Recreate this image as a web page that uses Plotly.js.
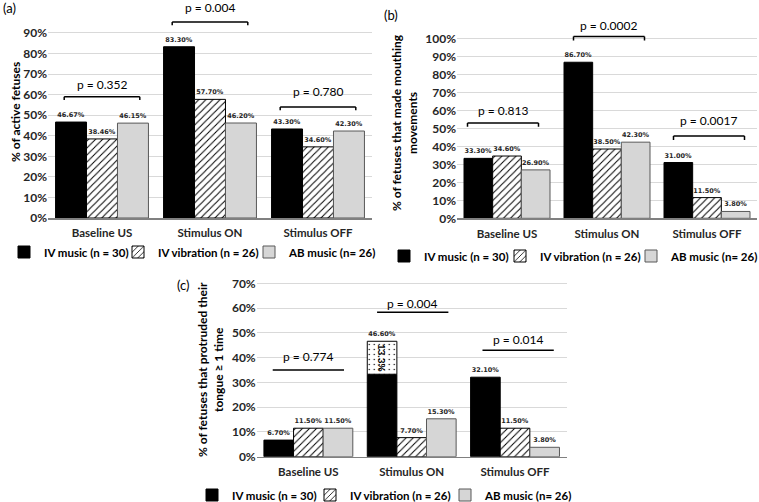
<!DOCTYPE html>
<html><head><meta charset="utf-8">
<script src="https://cdn.plot.ly/plotly-3.0.1.min.js"></script>
<style>html,body{margin:0;padding:0;background:#fff}#chart{width:759px;height:502px}</style>
</head><body><div id="chart"></div>
<script>
// ---------- DATA ----------
const categories = ['Baseline US', 'Stimulus ON', 'Stimulus OFF'];
const seriesNames = ['IV music (n = 30)', 'IV vibration (n = 26)', 'AB music (n= 26)'];

// (a) % of active fetuses
const activeIVMusic     = [46.67, 83.30, 43.30];
const activeIVVibration = [38.46, 57.70, 34.60];
const activeABMusic     = [46.15, 46.20, 42.30];
const pActive = ['p = 0.352', 'p = 0.004', 'p = 0.780'];

// (b) % of fetuses that made mouthing movements
const mouthIVMusic     = [33.30, 86.70, 31.00];
const mouthIVVibration = [34.60, 38.50, 11.50];
const mouthABMusic     = [26.90, 42.30, 3.80];
const pMouth = ['p = 0.813', 'p = 0.0002', 'p = 0.0017'];

// (c) % of fetuses that protruded their tongue >= 1 time
const tongueIVMusic      = [6.70, 33.30, 32.10];
const tongueIVMusicExtra = [null, 13.30, null];   // dotted stacked part
const tongueIVVibration  = [11.50, 7.70, 11.50];
const tongueABMusic      = [11.50, 15.30, 3.80];
const pTongue = ['p = 0.774', 'p = 0.004', 'p = 0.014'];

const yTicksA = [0, 10, 20, 30, 40, 50, 60, 70, 80, 90];
const yTicksB = [0, 10, 20, 30, 40, 50, 60, 70, 80, 90, 100];
const yTicksC = [0, 10, 20, 30, 40, 50, 60, 70];

// ---------- STYLE / LAYOUT CONFIG ----------
const F = 'Lato, "Open Sans", sans-serif';
const W = 759, H = 502;
const px = v => v / W, py = v => 1 - v / H;
const fmt2 = v => v == null ? '' : v.toFixed(2) + '%';
const fmt1 = v => v == null ? '' : v.toFixed(1) + '%';

const styleMusic = {color: '#000000', line: {color: '#000000', width: 1}};
const styleVib = {color: '#ffffff', line: {color: '#000000', width: 1},
  pattern: {shape: '/', fgcolor: '#000000', bgcolor: '#ffffff', size: 5, solidity: 0.2}};
const styleAB = {color: '#d6d6d6', line: {color: '#595959', width: 1}};
const styleDots = {color: '#ffffff', line: {color: '#000000', width: 1},
  pattern: {shape: '.', fgcolor: '#000000', bgcolor: '#ffffff', size: 5, solidity: 0.06}};
const labelFont = {family: '"DejaVu Sans", sans-serif', size: 6.5, weight: 700, color: '#262626'};

function bar(x, y, name, marker, xa, ya, legend, og, text, extra) {
  return Object.assign({
    type: 'bar', x: x, y: y, name: name, marker: marker, xaxis: xa, yaxis: ya,
    legend: legend, offsetgroup: og, text: text, textposition: 'outside',
    cliponaxis: false, constraintext: 'none', textfont: labelFont,
    outsidetextfont: labelFont, hoverinfo: 'skip'
  }, extra || {});
}

const traces = [];
// panel a
traces.push(bar(categories, activeIVMusic, seriesNames[0], styleMusic, 'x', 'y', 'legend', 'm', activeIVMusic.map(fmt2)));
traces.push(bar(categories, activeIVVibration, seriesNames[1], styleVib, 'x', 'y', 'legend2', 'v', activeIVVibration.map(fmt2)));
traces.push(bar(categories, activeABMusic, seriesNames[2], styleAB, 'x', 'y', 'legend3', 'a', activeABMusic.map(fmt2)));
// panel b
traces.push(bar(categories, mouthIVMusic, seriesNames[0], styleMusic, 'x2', 'y2', 'legend4', 'm', mouthIVMusic.map(fmt2)));
traces.push(bar(categories, mouthIVVibration, seriesNames[1], styleVib, 'x2', 'y2', 'legend5', 'v', mouthIVVibration.map(fmt2)));
traces.push(bar(categories, mouthABMusic, seriesNames[2], styleAB, 'x2', 'y2', 'legend6', 'a', mouthABMusic.map(fmt2)));
// panel c
const tongueMusicText = tongueIVMusic.map((v, i) => tongueIVMusicExtra[i] != null ? '' : fmt2(v));
traces.push(bar(categories, tongueIVMusic, seriesNames[0], styleMusic, 'x3', 'y3', 'legend7', 'm', tongueMusicText));
traces.push(bar(categories, tongueIVMusicExtra, 'IV music extra', styleDots, 'x3', 'y3', 'legend7', 'm',
  tongueIVMusicExtra.map(fmt1),
  {base: tongueIVMusic, showlegend: false, textposition: 'inside', textangle: 90, insidetextanchor: 'middle',
   insidetextfont: {family: F, size: 10, weight: 700, color: '#000000'}}));
const tongueTotal = tongueIVMusic.map((v, i) => tongueIVMusicExtra[i] != null ? v + tongueIVMusicExtra[i] : null);
traces.push(bar(categories, tongueTotal, 'IV music total', {color: 'rgba(0,0,0,0)', line: {width: 0}}, 'x3', 'y3', 'legend7', 'm',
  tongueTotal.map(fmt2), {showlegend: false}));
traces.push(bar(categories, tongueIVVibration, seriesNames[1], styleVib, 'x3', 'y3', 'legend8', 'v', tongueIVVibration.map(fmt2)));
traces.push(bar(categories, tongueABMusic, seriesNames[2], styleAB, 'x3', 'y3', 'legend9', 'a', tongueABMusic.map(fmt2)));

// axes
const xTickFont = {family: F, size: 11.5, weight: 700, color: '#262626'};
const yTickFont = {family: F, size: 12, weight: 700, color: '#262626'};
function xAxis(domain, anchor) {
  return {domain: domain, anchor: anchor, type: 'category', showline: true, linecolor: '#808080', linewidth: 1.5,
    ticks: '', ticklabelstandoff: 4, showgrid: false, zeroline: false, tickfont: xTickFont, fixedrange: true};
}
function yAxis(domain, anchor, range, ticks) {
  return {domain: domain, anchor: anchor, range: range, tickmode: 'array', tickvals: ticks,
    ticktext: ticks.map(t => t + '%'), showgrid: true, gridcolor: '#d9d9d9', gridwidth: 1,
    zeroline: false, showline: false, ticks: '', tickfont: yTickFont, fixedrange: true};
}

// brackets (positions in data units)
const brackets = [
  {xa: 'x', ya: 'y', p: pActive, lvl: [59, 95.3, 54], txt: [64.7, 102.6, 61.3], half: 0.35, tick: 1.6, off: [0, 0, 0]},
  {xa: 'x2', ya: 'y2', p: pMouth, lvl: [53, 101, 45.7], txt: [60, 107, 54.6], half: 0.355, tick: 2.2, off: [-0.04, 0.02, 0.02]},
  {xa: 'x3', ya: 'y3', p: pTongue, lvl: [35, 58.3, 43], txt: [40.6, 62, 47.5], half: 0.345, tick: 0, off: [0, 0.01, 0.03]}
];
const shapes = [], annotations = [];
brackets.forEach(b => {
  b.p.forEach((label, i) => {
    const c = i + b.off[i];
    const ln = {color: '#000000', width: 1.5};
    shapes.push({type: 'line', xref: b.xa, yref: b.ya, x0: c - b.half, x1: c + b.half, y0: b.lvl[i], y1: b.lvl[i], line: ln});
    if (b.tick > 0) {
      shapes.push({type: 'line', xref: b.xa, yref: b.ya, x0: c - b.half, x1: c - b.half, y0: b.lvl[i], y1: b.lvl[i] - b.tick, line: ln});
      shapes.push({type: 'line', xref: b.xa, yref: b.ya, x0: c + b.half, x1: c + b.half, y0: b.lvl[i], y1: b.lvl[i] - b.tick, line: ln});
    }
    annotations.push({xref: b.xa, yref: b.ya, x: c, y: b.txt[i], text: label, showarrow: false,
      xanchor: 'center', yanchor: 'middle', font: {family: F, size: 12, color: '#000000'}});
  });
});

// y titles and panel labels
const titleFont = {family: F, size: 12, weight: 700, color: '#000000'};
annotations.push({xref: 'paper', yref: 'paper', x: px(15), y: py(112), text: '% of active fetuses', textangle: -90,
  showarrow: false, xanchor: 'center', yanchor: 'middle', font: titleFont});
annotations.push({xref: 'paper', yref: 'paper', x: px(404), y: py(122), text: '% of fetuses that made mouthing<br>movements',
  textangle: -90, showarrow: false, xanchor: 'center', yanchor: 'middle', font: titleFont});
annotations.push({xref: 'paper', yref: 'paper', x: px(210), y: py(370), text: '% of fetuses that protruded their<br>tongue ≥ 1 time',
  textangle: -90, showarrow: false, xanchor: 'center', yanchor: 'middle', font: titleFont});
const panelFont = {family: F, size: 13, color: '#000000'};
[['(a)', 1, 8], ['(b)', 382, 15], ['(c)', 175, 285]].forEach(p => {
  annotations.push({xref: 'paper', yref: 'paper', x: px(p[1]), y: py(p[2]), text: p[0], showarrow: false,
    xanchor: 'left', yanchor: 'middle', font: panelFont});
});

// legends (one per item, box left px, center y px)
const legendFont = {family: F, size: 11.5, weight: 700, color: '#000000'};
function leg(xl, yc) {
  return {orientation: 'h', x: px(xl), y: py(yc), xanchor: 'left', yanchor: 'middle', font: legendFont,
    bgcolor: 'rgba(0,0,0,0)', borderwidth: 0, itemclick: false, itemdoubleclick: false};
}

const layout = {
  width: W, height: H, margin: {l: 0, r: 0, t: 0, b: 0, autoexpand: false},
  paper_bgcolor: '#ffffff', plot_bgcolor: '#ffffff', font: {family: F, color: '#000000'},
  barmode: 'group', bargap: 0.14, bargroupgap: 0, showlegend: true,
  xaxis: xAxis([px(48), px(372)], 'y'),
  yaxis: yAxis([py(218), py(3)], 'x', [0, 215 / 2.056], yTicksA),
  xaxis2: xAxis([px(457), px(757)], 'y2'),
  yaxis2: yAxis([py(218.3), py(3)], 'x2', [0, 215.3 / 1.8], yTicksB),
  xaxis3: xAxis([px(256.7), px(566.7)], 'y3'),
  yaxis3: yAxis([py(456.7), py(262)], 'x3', [0, 194.7 / 2.477], yTicksC),
  legend: leg(4, 252), legend2: leg(118, 252), legend3: leg(249, 252),
  legend4: leg(384, 256), legend5: leg(500, 256), legend6: leg(631, 256),
  legend7: leg(192, 495), legend8: leg(310, 495), legend9: leg(445, 495),
  shapes: shapes, annotations: annotations
};

Plotly.newPlot('chart', traces, layout, {staticPlot: true, displayModeBar: false});
</script>
</body></html>
